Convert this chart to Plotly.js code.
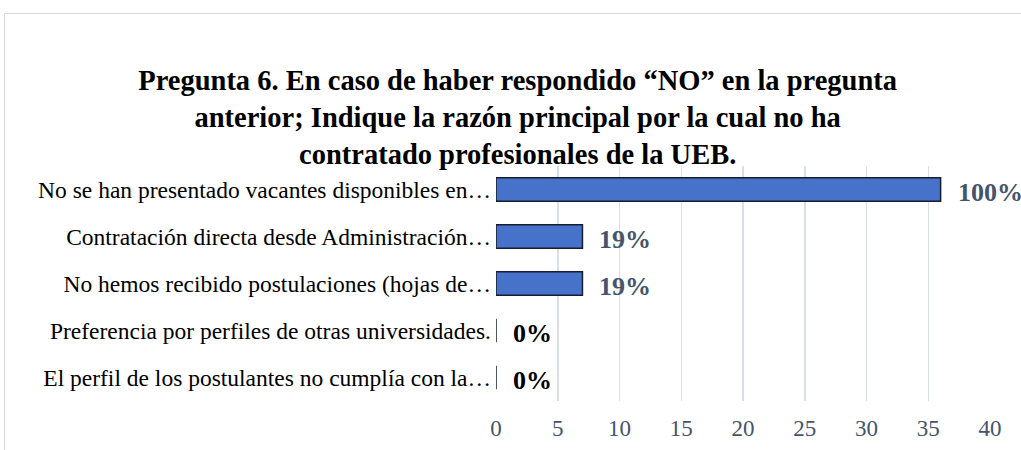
<!DOCTYPE html>
<html>
<head>
<meta charset="utf-8">
<script src="https://cdn.plot.ly/plotly-3.0.1.min.js"></script>
<style>
html,body{margin:0;padding:0;background:#fff;}
#wrap{position:relative;width:1021px;height:450px;overflow:hidden;}
#chart{position:absolute;left:0;top:0;width:1021px;height:450px;}
#frame{position:absolute;left:4px;top:13px;width:1100px;height:500px;border-left:1px solid #D9D9D9;border-top:1px solid #D9D9D9;pointer-events:none;}
</style>
</head>
<body>
<div id="wrap"><div id="chart"></div><div id="frame"></div></div>
<script>
const categories = [
  "No se han presentado vacantes disponibles en…",
  "Contratación directa desde Administración…",
  "No hemos recibido postulaciones (hojas de…",
  "Preferencia por perfiles de otras universidades.",
  "El perfil de los postulantes no cumplía con la…"
];
const counts = [36, 7, 7, 0, 0];
const percentLabels = ["100%", "19%", "19%", "0%", "0%"];
const labelColors = ["#44546A", "#44546A", "#44546A", "#000000", "#000000"];
const xTicks = [0, 5, 10, 15, 20, 25, 30, 35, 40];

const FONT = '"Times New Roman", "Liberation Serif", serif';

const trace = {
  type: 'bar',
  orientation: 'h',
  y: categories,
  x: counts,
  width: 0.5,
  marker: {color: '#4673C9', line: {color: '#141C2E', width: 1.5}},
  hoverinfo: 'none'
};

const annotations = categories.map((c, i) => ({
  x: counts[i], y: c, xref: 'x', yref: 'y',
  text: '<b>' + percentLabels[i] + '</b>',
  showarrow: false, xanchor: 'left', yanchor: 'middle', xshift: 15, yshift: -3,
  font: {family: FONT, size: 26, color: labelColors[i]}
}));

const layout = {
  width: 1021, height: 450,
  margin: {l: 496, r: 31, t: 166, b: 49, pad: 0},
  paper_bgcolor: 'rgba(0,0,0,0)', plot_bgcolor: 'rgba(0,0,0,0)',
  showlegend: false,
  title: {
    text: '<b>Pregunta 6. En caso de haber respondido “NO” en la pregunta<br>anterior; Indique la razón principal por la cual no ha<br>contratado profesionales de la UEB.</b>',
    font: {family: FONT, size: 28.5, color: '#000'},
    x: 0.507, xref: 'container', xanchor: 'center', y: 0.8, yref: 'container', yanchor: 'middle'
  },
  xaxis: {
    range: [0, 40], tickvals: xTicks, ticktext: xTicks.map(String),
    showgrid: true, gridcolor: '#D9DEE7', gridwidth: 1.5,
    zeroline: false, showline: false, ticks: '',
    ticklabelstandoff: 11,
    tickfont: {family: FONT, size: 23, color: '#44546A'},
    fixedrange: true
  },
  yaxis: {
    autorange: 'reversed', type: 'category',
    showgrid: false, zeroline: false, showline: false, ticks: '',
    ticklabelstandoff: 4,
    tickfont: {family: FONT, size: 23.5, color: '#000'},
    automargin: false, fixedrange: true
  },
  annotations: annotations
};

Plotly.newPlot('chart', [trace], layout, {displayModeBar: false, staticPlot: true});
</script>
</body>
</html>
